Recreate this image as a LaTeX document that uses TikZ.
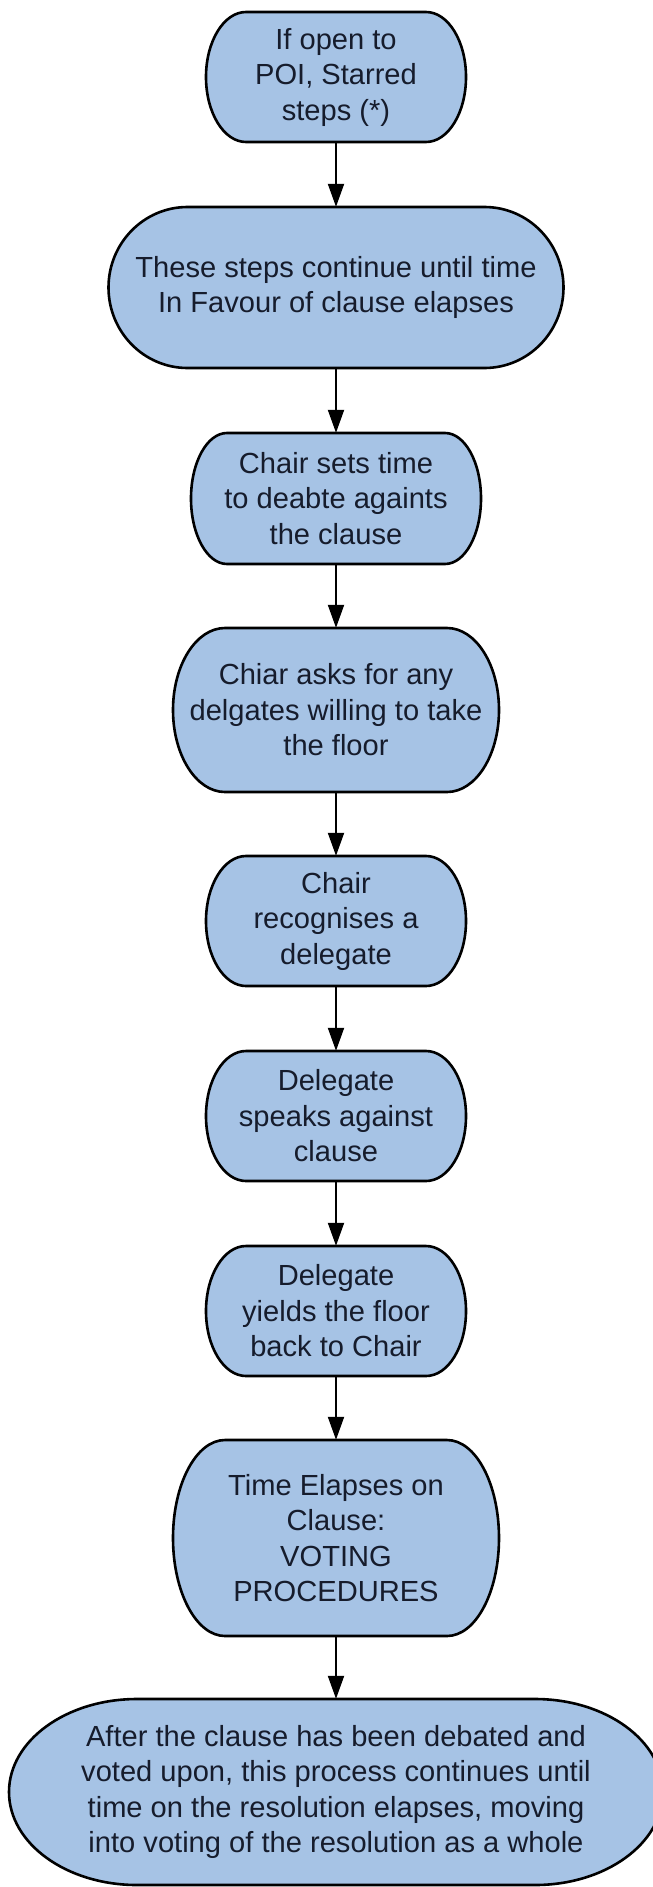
\documentclass[tikz,border=0pt]{standalone}
\usepackage{fontspec}
\setmainfont{Liberation Sans}
\usetikzlibrary{arrows.meta}

\definecolor{boxfill}{RGB}{166,195,229}
\definecolor{boxink}{RGB}{22,28,44}

\tikzset{
  boxline/.style={draw=black, line width=2.6pt, fill=boxfill},
  boxlabel/.style={align=center, text=boxink, inner sep=0pt, draw=none,
    font=\fontsize{29.1}{35.5}\selectfont},
  flow/.style={draw=black, line width=2pt, -{Triangle[length=23pt, width=16pt]}},
}

% Terminator box: #1 name, #2 centre x, #3 centre y, #4 half width,
% #5 half height, #6 horizontal radius of the rounded ends, #7 label
\newcommand\termbox[7]{%
  \draw[boxline] (#2-#4+#6, #3-#5) -- (#2+#4-#6, #3-#5)
    arc[start angle=90, end angle=-90, x radius=#6pt, y radius=#5pt]
    -- (#2-#4+#6, #3+#5)
    arc[start angle=270, end angle=90, x radius=#6pt, y radius=#5pt]
    -- cycle;
  \node[boxlabel, minimum width={2*#4pt}, minimum height={2*#5pt}]
    (#1) at (#2,#3) {#7};
}

\begin{document}
\begin{tikzpicture}[x=1pt, y=-1pt]
  \useasboundingbox (0,0) rectangle (653,1887);
  \clip (0,0) rectangle (653,1887);

  \termbox{poi}{336}{77}{130}{65}{40}{If open to\\POI, Starred\\steps (*)}
  \termbox{loop}{336}{287.5}{227.5}{80.5}{79}{These steps continue until time\\In Favour of clause elapses}
  \termbox{settime}{336}{498.5}{145}{65.5}{36}{Chair sets time\\to deabte againts\\the clause}
  \termbox{asks}{336}{710}{163}{82}{52}{Chiar asks for any\\delgates willing to take\\the floor}
  \termbox{recog}{336}{921}{130}{65}{40}{Chair\\recognises a\\delegate}
  \termbox{speaks}{336}{1116}{130}{65}{40}{Delegate\\speaks against\\clause}
  \termbox{yields}{336}{1311}{130}{65}{40}{Delegate\\yields the floor\\back to Chair}
  \termbox{voting}{336}{1538}{163}{98}{52}{Time Elapses on\\Clause:\\VOTING\\PROCEDURES}
  \termbox{after}{336}{1792}{327}{93}{128}{After the clause has been debated and\\voted upon, this process continues until\\time on the resolution elapses, moving\\into voting of the resolution as a whole}

  \draw[flow] (poi.south) -- (loop.north);
  \draw[flow] (loop.south) -- (settime.north);
  \draw[flow] (settime.south) -- (asks.north);
  \draw[flow] (asks.south) -- (recog.north);
  \draw[flow] (recog.south) -- (speaks.north);
  \draw[flow] (speaks.south) -- (yields.north);
  \draw[flow] (yields.south) -- (voting.north);
  \draw[flow] (voting.south) -- (after.north);
\end{tikzpicture}
\end{document}
